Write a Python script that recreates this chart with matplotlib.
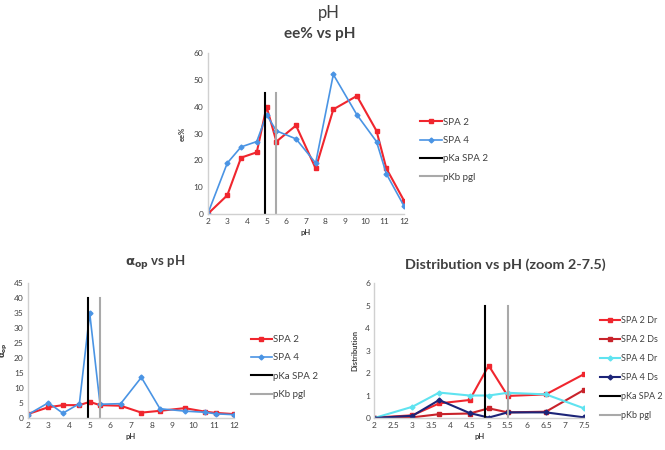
import matplotlib
matplotlib.use("Agg")
import matplotlib.pyplot as plt

plt.rcParams['font.family'] = ['Lato', 'DejaVu Sans']

# ---------------- data ----------------
ph_full = [2, 3, 3.7, 4.5, 5, 5.5, 6.5, 7.5, 8.4, 9.6, 10.6, 11.1, 12]
ee_spa2 = [0, 7, 21, 23, 40, 27, 33, 17, 39, 44, 31, 17, 5]
ee_spa4 = [0, 19, 25, 27, 37, 31, 28, 19, 52, 37, 27, 15, 3]

aop_spa2 = [1.2, 3.5, 4.2, 4.2, 5.3, 4.2, 4.0, 1.7, 2.3, 3.2, 2.0, 1.6, 1.2]
aop_spa4 = [1.0, 5.0, 1.5, 4.7, 35, 4.5, 4.7, 13.5, 3.0, 2.2, 1.8, 1.3, 1.0]

ph_zoom = [2, 3, 3.7, 4.5, 5, 5.5, 6.5, 7.5]
dist_spa2_dr = [0.02, 0.12, 0.65, 0.8, 2.33, 0.98, 1.05, 1.95]
dist_spa2_ds = [0.0, 0.03, 0.17, 0.2, 0.43, 0.25, 0.28, 1.25]
dist_spa4_dr = [0.0, 0.5, 1.13, 1.0, 1.0, 1.12, 1.05, 0.43]
dist_spa4_ds = [0.0, 0.1, 0.8, 0.22, 0.02, 0.25, 0.25, 0.03]

pka_spa2 = 4.9
pkb_pgl = 5.5

# ---------------- styles ----------------
RED = '#F0262E'
BLUE = '#4A94E4'
DRED = '#C8232B'
CYAN = '#5FE3F0'
NAVY = '#1C2478'
BLACK = '#000000'
GRAY = '#A9A9A9'
AXGRAY = '#D0D0D0'
TXT = '#404040'

fig = plt.figure(figsize=(6.65, 4.5), dpi=100)
fig.patch.set_facecolor('white')

def style_ax(ax, xlim, ylim, yticks, xticks, xlabels=None):
    ax.set_xlim(*xlim)
    ax.set_ylim(*ylim)
    ax.set_yticks(yticks)
    ax.set_xticks(xticks)
    if xlabels is not None:
        ax.set_xticklabels(xlabels)
    for s in ['top', 'right']:
        ax.spines[s].set_visible(False)
    for s in ['left', 'bottom']:
        ax.spines[s].set_color(AXGRAY)
        ax.spines[s].set_linewidth(1.0)
    ax.tick_params(length=0, labelsize=6, colors=TXT, pad=3)
    ax.set_facecolor('none')

def legend(ax, handles, labels, x, y, spacing, fs=7):
    ax.legend(handles, labels, loc='upper left', bbox_to_anchor=(x, y),
              bbox_transform=fig.transFigure, frameon=False, fontsize=fs,
              handlelength=2.2, handletextpad=0.1, labelspacing=spacing,
              borderaxespad=0, borderpad=0, labelcolor=TXT)

fig.text(0.494, 0.972, 'pH', ha='center', va='center', fontsize=12, color=TXT)

# ---------- top: ee% vs pH ----------
ax1 = fig.add_axes([0.3123, 0.5244, 0.2952, 0.3578])
l1, = ax1.plot(ph_full, ee_spa2, color=RED, lw=1.5, marker='s', ms=3.5)
l2, = ax1.plot(ph_full, ee_spa4, color=BLUE, lw=1.2, marker='D', ms=2.5)
l3, = ax1.plot([pka_spa2, pka_spa2], [0, 45], color=BLACK, lw=1.5)
l4, = ax1.plot([pkb_pgl, pkb_pgl], [0, 45], color=GRAY, lw=1.5)
style_ax(ax1, (2, 12), (0, 60), range(0, 61, 10), range(2, 13))
ax1.set_xlabel('pH', fontsize=5.5, fontweight='bold', color=TXT, labelpad=3)
ax1.set_ylabel('ee%', fontsize=5.5, fontweight='bold', color=TXT, labelpad=6)
fig.text(0.481, 0.925, 'ee% vs pH', ha='center', va='center', fontsize=11,
         fontweight='bold', color=TXT)
legend(ax1, [l1, l2, l3, l4], ['SPA 2', 'SPA 4', 'pKa SPA 2', 'pKb pgl'],
       0.632, 0.738, 0.95)

# ---------- bottom-left: alpha_op vs pH ----------
ax2 = fig.add_axes([0.0417, 0.0718, 0.3107, 0.2987])
m1, = ax2.plot(ph_full, aop_spa2, color=RED, lw=1.5, marker='s', ms=3.5)
m2, = ax2.plot(ph_full, aop_spa4, color=BLUE, lw=1.2, marker='D', ms=2.5)
m3, = ax2.plot([pka_spa2, pka_spa2], [0, 40], color=BLACK, lw=1.5)
m4, = ax2.plot([pkb_pgl, pkb_pgl], [0, 40], color=GRAY, lw=1.5)
style_ax(ax2, (2, 12), (0, 45), range(0, 46, 5), range(2, 13))
ax2.set_xlabel('pH', fontsize=5.5, fontweight='bold', color=TXT, labelpad=3)
ax2.set_ylabel(r'$\mathbf{\alpha_{op}}$', fontsize=6, color=TXT, labelpad=3)
fig.text(0.233, 0.415, r'$\mathbf{\alpha_{op}}$ vs pH', ha='center', va='center',
         fontsize=9.5, fontweight='bold', color=TXT)
legend(ax2, [m1, m2, m3, m4], ['SPA 2', 'SPA 4', 'pKa SPA 2', 'pKb pgl'],
       0.377, 0.255, 0.95)

# ---------- bottom-right: Distribution vs pH ----------
ax3 = fig.add_axes([0.5629, 0.0711, 0.3153, 0.3])
n1, = ax3.plot(ph_zoom, dist_spa2_dr, color=RED, lw=1.5, marker='s', ms=3.5)
n2, = ax3.plot(ph_zoom, dist_spa2_ds, color=DRED, lw=1.5, marker='s', ms=3.5)
n3, = ax3.plot(ph_zoom, dist_spa4_dr, color=CYAN, lw=1.5, marker='D', ms=2.5)
n4, = ax3.plot(ph_zoom, dist_spa4_ds, color=NAVY, lw=1.5, marker='D', ms=2.5)
n5, = ax3.plot([pka_spa2, pka_spa2], [0, 5], color=BLACK, lw=1.5)
n6, = ax3.plot([pkb_pgl, pkb_pgl], [0, 5], color=GRAY, lw=1.5)
xt = [2, 2.5, 3, 3.5, 4, 4.5, 5, 5.5, 6, 6.5, 7, 7.5]
style_ax(ax3, (2, 7.5), (0, 6), range(0, 7), xt,
         ['2', '2.5', '3', '3.5', '4', '4.5', '5', '5.5', '6', '6.5', '7', '7.5'])
ax3.set_xlabel('pH', fontsize=5.5, fontweight='bold', color=TXT, labelpad=3)
ax3.set_ylabel('Distribution', fontsize=5.5, fontweight='bold', color=TXT, labelpad=5)
fig.text(0.76, 0.412, 'Distribution vs pH (zoom 2-7.5)', ha='center', va='center',
         fontsize=10.4, fontweight='bold', color=TXT)
legend(ax3, [n1, n2, n3, n4, n5, n6],
       ['SPA 2 Dr', 'SPA 2 Ds', 'SPA 4 Dr', 'SPA 4 Ds', 'pKa SPA 2', 'pKb pgl'],
       0.902, 0.298, 1.12, fs=6.5)

fig.savefig('out.png', dpi=100, facecolor='white')
